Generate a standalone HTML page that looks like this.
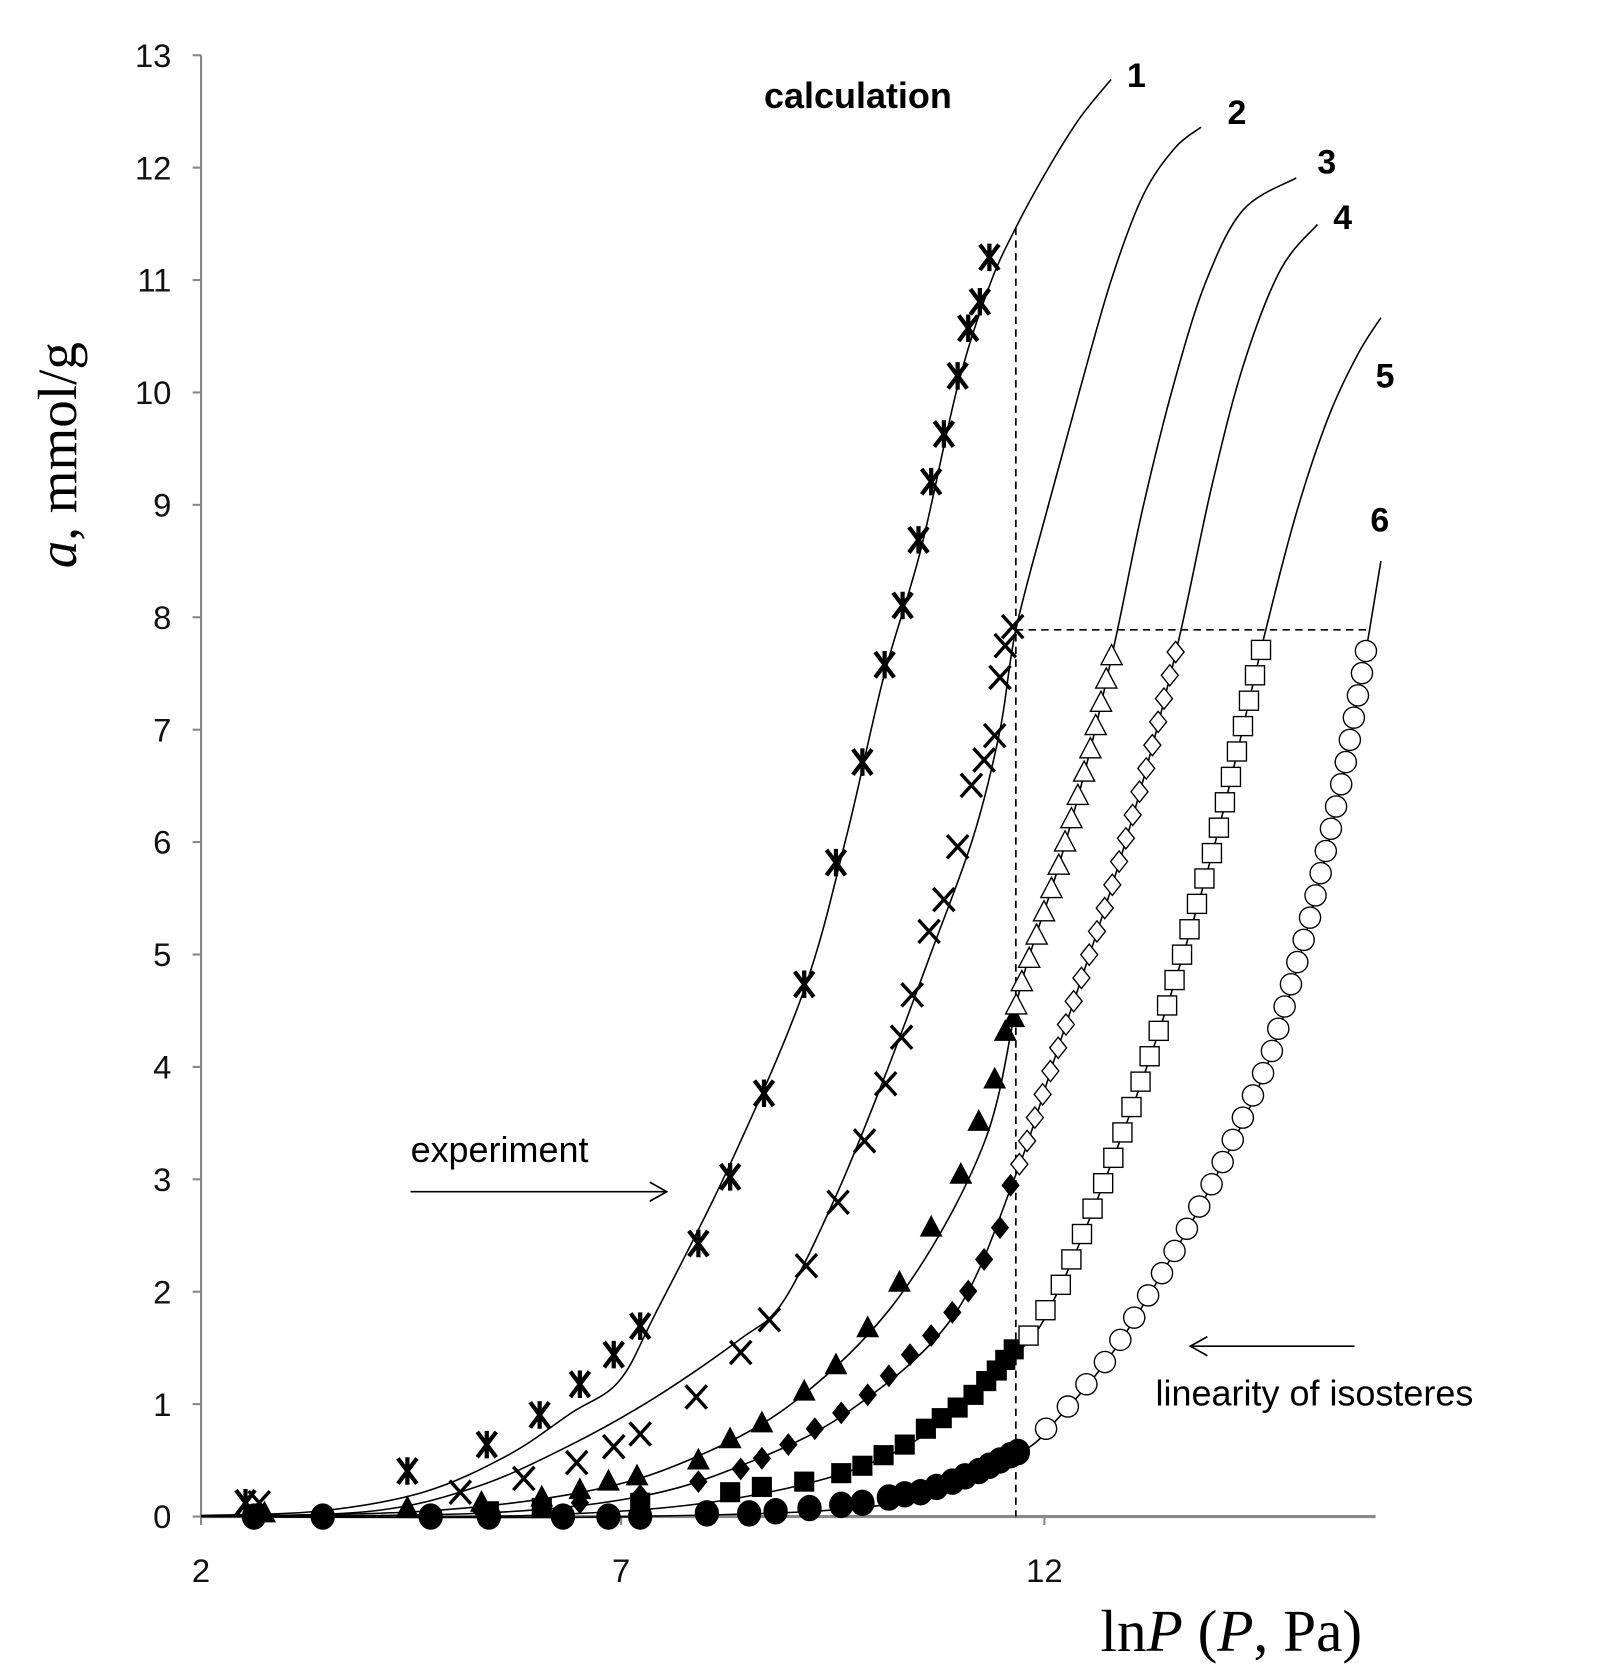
<!DOCTYPE html>
<html><head><meta charset="utf-8"><style>html,body{margin:0;padding:0;background:#fff}svg{display:block}</style></head>
<body>
<svg id="s" width="1619" height="1667" viewBox="0 0 1530 1575" xmlns="http://www.w3.org/2000/svg" font-family="Liberation Sans, Arial, sans-serif">
<rect width="1530" height="1575" fill="#fff"/>
<g stroke="#888" stroke-width="2" fill="none">
<line x1="190" y1="52" x2="190" y2="1433"/>
<line x1="190" y1="1433" x2="1300" y2="1433" stroke-width="3"/>
</g>
<g id="ticks" stroke="#888" stroke-width="2"></g>
<g font-size="31" fill="#111" text-anchor="end" id="ylab"></g>
<g font-size="31" fill="#111" text-anchor="middle">
<text x="190" y="1495">2</text><text x="587" y="1495">7</text><text x="987" y="1495">12</text>
</g>
<g stroke="#000" stroke-width="1.6" stroke-dasharray="7,5" fill="none">
<line x1="960" y1="215" x2="960" y2="1433"/>
<line x1="960" y1="595" x2="1292" y2="595"/>
</g>
<g id="curves" stroke="#000" stroke-width="1.5" fill="none"></g>
<g id="marks"></g>
<g font-weight="bold" font-size="34" fill="#000">
<text x="722" y="102">calculation</text>
<text x="1065" y="82" font-size="32">1</text>
<text x="1160" y="117" font-size="32">2</text>
<text x="1245" y="164" font-size="32">3</text>
<text x="1260" y="216" font-size="32">4</text>
<text x="1300" y="366" font-size="32">5</text>
<text x="1295" y="502" font-size="32">6</text>
</g>
<text x="388" y="1098" font-size="34" fill="#000">experiment</text>
<g stroke="#000" stroke-width="1.6" fill="none">
<line x1="388" y1="1126" x2="630" y2="1126"/><polyline points="614,1117 630,1126 614,1135"/>
<line x1="1125" y1="1272" x2="1280" y2="1272"/><polyline points="1141,1263 1125,1272 1141,1281"/>
</g>
<text x="1092" y="1328" font-size="34" fill="#000">linearity of isosteres</text>
<text transform="translate(72,430) rotate(-90)" text-anchor="middle" font-family="Liberation Serif, serif" font-size="52" fill="#000"><tspan font-style="italic">a</tspan>, mmol/g</text>
<text x="1040" y="1560" font-family="Liberation Serif, serif" font-size="56" fill="#000">ln<tspan font-style="italic">P</tspan> (<tspan font-style="italic">P</tspan>, Pa)</text>
</svg>
<script>
var NS="http://www.w3.org/2000/svg";
function el(p,t,a){var e=document.createElementNS(NS,t);for(var k in a)e.setAttribute(k,a[k]);p.appendChild(e);return e;}
var T=document.getElementById('ticks'),YL=document.getElementById('ylab');
for(var i=0;i<=13;i++){var y=1433-i*106.23;el(T,'line',{x1:182,y1:y,x2:190,y2:y});var t=el(YL,'text',{x:162,y:y+11});t.textContent=i;}
[190,587,987].forEach(function(x){el(T,'line',{x1:x,y1:1433,x2:x,y2:1441});});
function cr(p){var d='M'+p[0][0]+','+p[0][1];for(var i=0;i<p.length-1;i++){var p0=p[i-1]||p[i],p1=p[i],p2=p[i+1],p3=p[i+2]||p2;
d+=' C'+(p1[0]+(p2[0]-p0[0])/6)+','+(p1[1]+(p2[1]-p0[1])/6)+' '+(p2[0]-(p3[0]-p1[0])/6)+','+(p2[1]-(p3[1]-p1[1])/6)+' '+p2[0]+','+p2[1];}return d;}
var C=[
[[190,1432],[300,1428],[400,1410],[480,1375],[540,1335],[585,1305],[620,1240],[690,1100],[760,935],[800,790],[835,640],[870,520],[905,365],[935,270],[960,215],[990,160],[1020,112],[1050,75]],
[[190,1433],[350,1428],[450,1405],[540,1365],[620,1320],[700,1265],[740,1230],[790,1130],[835,1020],[880,900],[920,790],[945,690],[960,595],[990,480],[1020,370],[1050,265],[1080,185],[1110,140],[1135,120]],
[[190,1433],[400,1428],[550,1410],[650,1380],[750,1325],[850,1225],[930,1080],[965,930],[1000,820],[1030,710],[1055,600],[1080,480],[1110,360],[1140,265],[1175,198],[1225,168]],
[[190,1433],[450,1430],[600,1415],[700,1385],[800,1335],[900,1245],[960,1110],[1000,990],[1050,840],[1085,720],[1115,600],[1145,460],[1175,345],[1210,255],[1245,212]],
[[190,1433],[500,1432],[700,1415],[850,1370],[960,1280],[1000,1220],[1050,1100],[1100,960],[1150,790],[1195,600],[1225,485],[1255,395],[1283,335],[1305,300]],
[[190,1433],[600,1433],[850,1420],[960,1375],[1000,1340],[1050,1280],[1100,1200],[1150,1110],[1200,1000],[1240,860],[1270,730],[1290,620],[1305,530]]];
var G=document.getElementById('curves');C.forEach(function(p){el(G,'path',{d:cr(p)});});
var M=document.getElementById('marks');
function mk(type,x,y,open){var f=open?'#fff':'#000',s='#000';
if(type=='ast'){el(M,'path',{d:'M'+(x-9)+','+(y-12)+'L'+(x+9)+','+(y+12)+'M'+(x+9)+','+(y-12)+'L'+(x-9)+','+(y+12)+'M'+x+','+(y-13)+'L'+x+','+(y+13),stroke:s,'stroke-width':4,fill:'none'});}
else if(type=='x'){el(M,'path',{d:'M'+(x-10)+','+(y-11)+'L'+(x+10)+','+(y+11)+'M'+(x+10)+','+(y-11)+'L'+(x-10)+','+(y+11),stroke:s,'stroke-width':3.2,fill:'none'});}
else if(type=='tri'){el(M,'polygon',{points:x+','+(y-11)+' '+(x-10)+','+(y+8)+' '+(x+10)+','+(y+8),fill:f,stroke:s,'stroke-width':open?1.3:1});}
else if(type=='dia'){el(M,'polygon',{points:x+','+(y-10)+' '+(x+8)+','+y+' '+x+','+(y+10)+' '+(x-8)+','+y,fill:f,stroke:s,'stroke-width':open?1.3:1});}
else if(type=='sq'){el(M,'rect',{x:x-9,y:y-9,width:18,height:18,fill:f,stroke:s,'stroke-width':open?1.3:1});}
else {el(M,'ellipse',{cx:x,cy:y,rx:open?10:11,ry:open?10:12,fill:f,stroke:s,'stroke-width':open?1.3:1});}}
function pts(type,a){a.forEach(function(p){mk(type,p[0],p[1],false);});}
pts('ast',[[232,1420],[385,1390],[460,1365],[510,1337],[548,1308],[580,1280],[605,1253],[660,1175],[690,1112],[722,1033],[760,930],[790,815],[815,720],[836,628],[853,572],[868,510],[880,455],[892,410],[905,355],[915,310],[926,285],[935,243]]);
pts('x',[[245,1420],[435,1410],[495,1397],[545,1382],[580,1367],[605,1355],[658,1320],[700,1278],[727,1247],[762,1196],[792,1136],[817,1078],[837,1024],[852,980],[862,940],[878,880],[892,850],[905,800],[918,742],[930,718],[940,695],[945,640],[950,610],[957,592]]);
pts('tri',[[250,1430],[385,1425],[455,1420],[512,1415],[548,1408],[575,1400],[602,1395],[660,1380],[690,1360],[720,1345],[760,1315],[790,1290],[820,1255],[850,1212],[880,1160],[908,1110],[925,1060],[940,1020],[950,975],[958,962]]);
pts('dia',[[455,1428],[548,1420],[605,1413],[660,1400],[700,1388],[720,1378],[745,1365],[770,1350],[795,1335],[820,1318],[840,1300],[860,1280],[880,1262],[900,1240],[915,1220],[930,1190],[945,1160],[955,1120]]);
pts('sq',[[462,1428],[512,1425],[605,1420],[690,1410],[720,1405],[760,1400],[795,1392],[815,1385],[835,1375],[855,1365],[875,1350],[890,1340],[905,1330],[920,1318],[932,1305],[942,1295],[950,1285],[958,1275]]);
pts('circ',[[240,1433],[305,1433],[407,1433],[462,1433],[532,1433],[575,1433],[605,1433],[668,1430],[708,1430],[733,1428],[765,1425],[795,1422],[815,1420],[840,1415],[855,1412],[870,1410],[885,1405],[900,1400],[912,1395],[925,1390],[935,1385],[945,1380],[955,1375],[962,1372]]);
function openAlong(type,curve,y0,y1,step){var p=curve;for(var y=y0;y>=y1;y-=step){for(var i=0;i<p.length-1;i++){var a=p[i],b=p[i+1];if((a[1]>=y&&b[1]<=y)){var t=(a[1]-b[1])?(a[1]-y)/(a[1]-b[1]):0;mk(type,a[0]+t*(b[0]-a[0]),y,true);break;}}}}
openAlong('tri',C[2],950,600,22);
openAlong('dia',C[3],1100,600,22);
openAlong('sq',C[4],1262,600,24);
openAlong('circ',C[5],1350,600,21);
</script>
</body></html>
